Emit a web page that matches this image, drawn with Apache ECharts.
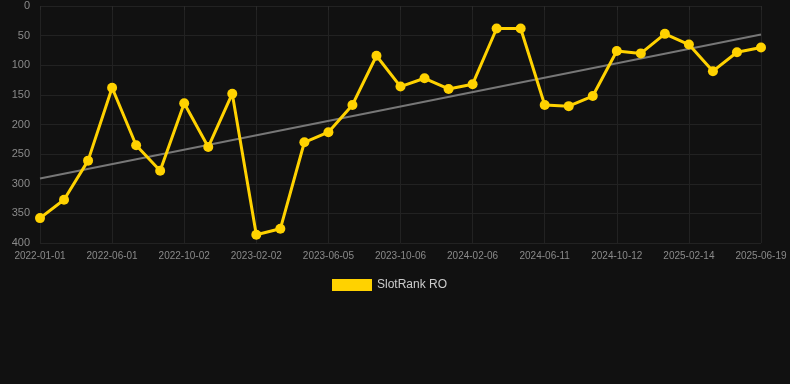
<!DOCTYPE html>
<html>
<head>
<meta charset="utf-8">
<script src="https://cdn.jsdelivr.net/npm/echarts@6/dist/echarts.min.js"></script>
<style>
html, body { margin: 0; padding: 0; background: #111111; }
#main { width: 790px; height: 384px; }
</style>
</head>
<body>
<div id="main"></div>
<script>
// dates on the x axis
var dates = ['2022-01-01', '2022-02-20', '2022-04-11', '2022-06-01', '2022-07-12', '2022-08-22',
	'2022-10-02', '2022-11-12', '2022-12-23', '2023-02-02', '2023-03-15', '2023-04-25',
	'2023-06-05', '2023-07-16', '2023-08-26', '2023-10-06', '2023-11-16', '2023-12-27',
	'2024-02-06', '2024-03-18', '2024-04-30', '2024-06-11', '2024-07-22', '2024-09-01',
	'2024-10-12', '2024-11-23', '2025-01-03', '2025-02-14', '2025-03-27', '2025-05-08',
	'2025-06-19'];
// rank values
var ranks = [358, 327, 261, 138, 235, 278, 164, 238, 148, 386,
	376, 230, 213, 167, 84, 136, 122, 140, 132, 38,
	38, 167, 169, 152, 76, 80, 47, 65, 110, 78,
	70];
// trend line ends (first date, last date)
var trendEnds = [291, 48];
var yTicks = [0, 50, 100, 150, 200, 250, 300, 350, 400];

var myChart = echarts.init(document.getElementById('main'));
var option = {
	backgroundColor: '#111111',
	animation: false,
	grid: {
		left: 40,
		right: 29,
		top: 6,
		bottom: 141
	},
	legend: {
		top: 279,
		left: 332,
		padding: 0,
		itemWidth: 40,
		itemHeight: 12,
		itemGap: 6,
		textStyle: { color: '#cccccc', fontSize: 12, fontFamily: 'Arial, Liberation Sans, sans-serif' },
		data: [{ name: 'SlotRank RO', icon: 'rect' }]
	},
	xAxis: {
		type: 'category',
		boundaryGap: false,
		data: dates,
		axisLine: { show: false },
		axisTick: { show: true, interval: 2, length: 4, lineStyle: { color: '#2a2a2a' } },
		axisLabel: {
			interval: 2,
			color: '#8a8a8a',
			fontSize: 10,
			margin: 8,
			fontFamily: 'Arial, Liberation Sans, sans-serif'
		},
		splitLine: { show: true, interval: 2, lineStyle: { color: '#222222', width: 1 } }
	},
	yAxis: {
		type: 'value',
		inverse: true,
		min: yTicks[0],
		max: yTicks[yTicks.length - 1],
		interval: 50,
		axisLine: { show: false },
		axisTick: { show: false },
		axisLabel: {
			color: '#8a8a8a',
			fontSize: 11,
			margin: 10,
			fontFamily: 'Arial, Liberation Sans, sans-serif'
		},
		splitLine: { lineStyle: { color: '#222222', width: 1 } }
	},
	series: [{
		name: 'SlotRank RO',
		type: 'line',
		data: ranks,
		color: '#FFD200',
		symbol: 'circle',
		symbolSize: 10,
		lineStyle: { width: 3, color: '#FFD200' },
		itemStyle: { color: '#FFD200' },
		z: 3
	}, {
		name: 'trend',
		type: 'line',
		data: [[dates[0], trendEnds[0]], [dates[dates.length - 1], trendEnds[1]]],
		symbol: 'none',
		lineStyle: { width: 2, color: '#777777' },
		z: 2
	}]
};
myChart.setOption(option);

window.onresize = myChart.resize;
</script>
</body>
</html>
